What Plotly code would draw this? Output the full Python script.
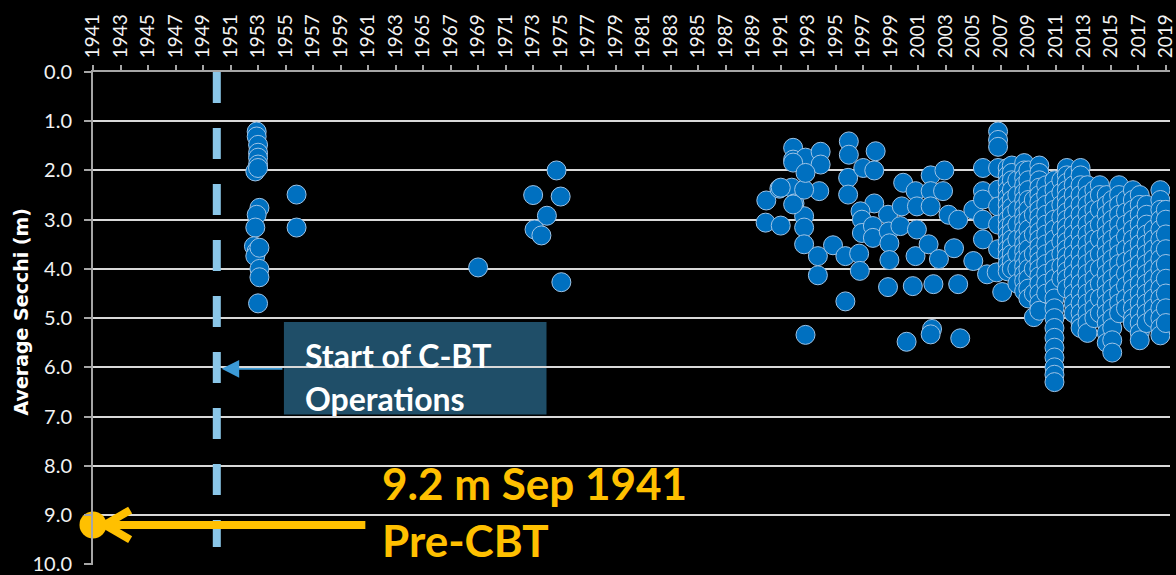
import plotly.graph_objects as go

# ---------------- data ----------------
tick_years = list(range(1941, 2020, 2))
tick_labels = [str(y) for y in tick_years]
depth_ticks = [0, 1, 2, 3, 4, 5, 6, 7, 8, 9, 10]

# 1953 - 1975 observations
early_year = [1952.9, 1952.9, 1953.0, 1953.0, 1953.0, 1953.0, 1952.8, 1953.0, 1953.1, 1952.9,
              1952.8, 1952.7, 1952.9, 1952.8, 1953.1, 1953.1, 1953.1, 1953.0,
              1955.8, 1955.8, 1969.0, 1973.0, 1974.7, 1975.0, 1974.0, 1973.1, 1973.6, 1975.05]
early_depth = [1.21, 1.31, 1.48, 1.64, 1.74, 1.88, 2.02, 1.95, 2.76, 2.9,
               3.16, 3.54, 3.64, 3.74, 3.57, 4.0, 4.17, 4.7,
               2.49, 3.16, 3.97, 2.5, 2.0, 2.53, 2.92, 3.2, 3.32, 4.27]

# 1989 - 2007 observations
mid_year = [1989.95, 1989.9, 1991.0, 1990.9, 1991.9, 1991.9, 1991.8, 1992.0, 1992.8, 1993.9,
            1993.9, 1993.8, 1992.7, 1992.7, 1992.7, 1992.7, 1993.7, 1993.7, 1994.8, 1995.7,
            1995.7, 1995.95, 1995.95, 1995.9, 1995.9, 1997.0, 1997.9, 1997.8, 1997.8, 1996.8,
            1996.9, 1996.9, 1997.7, 1997.7, 1996.7, 1996.75, 1998.8, 1998.85, 1998.9, 1998.9,
            1998.8, 1999.9, 1999.8, 1999.7, 2000.8, 2000.9, 2000.9, 2000.8, 2000.6, 2000.15,
            2001.9, 2002.9, 2001.9, 2002.8, 2001.9, 2001.75, 2002.5, 2003.6, 2002.1, 2003.9,
            2002.0, 2001.9, 2004.05, 2003.2, 2003.9, 2005.0, 2005.0, 2007.1, 2006.8, 2006.8,
            2006.8, 2005.7, 2006.8, 2005.7, 2005.7, 2005.7, 2005.7, 2006.0, 2006.8, 2006.8,
            2006.8, 2006.8, 2006.7, 1992.8, 1991.9, 1992.8, 1991.0, 1991.9]
mid_depth = [2.61, 3.06, 3.12, 2.37, 1.54, 1.78, 2.35, 2.67, 1.74, 1.62,
             1.88, 2.42, 2.39, 2.93, 3.16, 3.5, 3.74, 4.13, 3.52, 3.74,
             4.66, 1.41, 1.68, 2.15, 2.49, 1.95, 1.61, 2.0, 2.67, 2.83,
             3.0, 3.27, 3.13, 3.37, 3.69, 4.04, 2.9, 3.24, 3.48, 3.82,
             4.37, 2.25, 2.73, 3.13, 2.42, 2.73, 3.2, 3.74, 4.35, 5.48,
             2.1, 2.0, 2.42, 2.42, 2.73, 3.5, 3.8, 3.58, 4.31, 4.31,
             5.22, 5.33, 5.41, 2.9, 3.0, 3.84, 2.8, 4.47, 1.21, 1.38,
             1.52, 1.95, 1.95, 2.42, 2.59, 3.0, 3.4, 4.11, 2.39, 2.73,
             3.1, 3.6, 4.07, 5.34, 1.84, 2.05, 2.35, 2.69]

# 2007 - 2020 observations (grouped by sampling column)
late_col_year = [2007.5, 2007.8, 2008.2, 2008.7, 2009.0, 2009.4, 2009.8, 2010.3, 2010.9, 2011.4,
                 2011.8, 2012.3, 2012.8, 2013.3, 2013.8, 2014.2, 2014.7, 2015.1, 2015.6, 2016.1,
                 2016.6, 2017.1, 2017.6, 2018.1, 2018.6, 2019.0]
late_col_depths = [
    [1.95, 2.1, 2.25, 2.4, 2.55, 2.7, 2.85, 3.0, 3.15, 3.3, 3.45, 3.6, 3.75, 3.9, 4.05],
    [1.9, 2.05, 2.2, 2.4, 2.6, 2.75, 2.9, 3.1, 3.25, 3.4, 3.55, 3.7, 3.85, 4.0],
    [2.2, 2.5, 2.8, 3.1, 3.4, 3.7, 4.0, 4.3],
    [1.85, 2.0, 2.15, 2.3, 2.45, 2.6, 2.75, 2.9, 3.05, 3.2, 3.35, 3.5, 3.65, 3.8, 3.95, 4.1, 4.25, 4.45],
    [2.0, 2.2, 2.4, 2.6, 2.8, 3.0, 3.2, 3.4, 3.6, 3.8, 4.0, 4.2, 4.4, 4.6],
    [2.6, 2.9, 3.3, 3.7, 4.0, 4.5, 4.98],
    [1.9, 2.05, 2.2, 2.35, 2.5, 2.65, 2.8, 2.95, 3.1, 3.25, 3.4, 3.55, 3.7, 3.85, 4.0, 4.15, 4.3, 4.5, 4.7, 4.85],
    [2.3, 2.5, 2.7, 2.9, 3.1, 3.3, 3.5, 3.7, 3.9, 4.1, 4.3, 4.5],
    [2.2, 2.4, 2.6, 2.8, 3.0, 3.2, 3.4, 3.6, 3.8, 4.0, 4.2, 4.4, 4.6, 4.8, 5.0, 5.2, 5.4, 5.6, 5.8, 6.0, 6.15, 6.3],
    [2.2, 2.45, 2.7, 2.95, 3.2, 3.45, 3.7, 3.95, 4.2],
    [1.95, 2.1, 2.25, 2.4, 2.55, 2.7, 2.85, 3.0, 3.15, 3.3, 3.45, 3.6, 3.75, 3.9, 4.05, 4.2, 4.4],
    [2.1, 2.3, 2.5, 2.7, 2.9, 3.1, 3.3, 3.5, 3.7, 3.9, 4.1, 4.3, 4.5, 4.7, 4.9],
    [1.95, 2.1, 2.3, 2.5, 2.7, 2.9, 3.1, 3.3, 3.5, 3.7, 3.9, 4.1, 4.3, 4.5, 4.7, 4.9, 5.1, 5.2],
    [2.3, 2.5, 2.7, 2.9, 3.1, 3.3, 3.5, 3.7, 3.9, 4.1, 4.3, 4.5, 4.7, 4.9, 5.1, 5.3],
    [2.4, 2.6, 2.8, 3.0, 3.2, 3.4, 3.6, 3.8, 4.0, 4.2, 4.4, 4.6, 4.8, 5.0],
    [2.3, 2.5, 2.8, 3.1, 3.4, 3.7, 4.0, 4.3, 4.6, 4.9],
    [2.5, 2.7, 2.9, 3.1, 3.3, 3.5, 3.7, 3.9, 4.1, 4.3, 4.5, 4.7, 4.9, 5.1, 5.3, 5.5],
    [2.6, 2.8, 3.0, 3.2, 3.4, 3.6, 3.8, 4.0, 4.2, 4.4, 4.6, 4.8, 5.0, 5.2, 5.45, 5.7],
    [2.3, 2.5, 2.7, 2.9, 3.1, 3.3, 3.5, 3.7, 3.9, 4.1, 4.3, 4.5, 4.7, 4.9],
    [2.6, 2.85, 3.1, 3.35, 3.6, 3.85, 4.1, 4.35, 4.6, 4.8],
    [2.4, 2.6, 2.8, 3.0, 3.2, 3.4, 3.6, 3.8, 4.0, 4.2, 4.4, 4.6, 4.8, 5.0, 5.1],
    [2.5, 2.7, 2.9, 3.1, 3.3, 3.5, 3.7, 3.9, 4.1, 4.3, 4.5, 4.7, 4.9, 5.1, 5.3, 5.45],
    [2.7, 2.9, 3.1, 3.3, 3.5, 3.7, 3.9, 4.1, 4.3, 4.5, 4.7, 4.9, 5.1],
    [3.2, 3.4, 3.6, 3.8, 4.0, 4.2, 4.4, 4.6, 4.8, 5.0],
    [2.4, 2.6, 2.8, 3.0, 3.2, 3.4, 3.6, 3.8, 4.0, 4.2, 4.4, 4.6, 4.8, 5.0, 5.2, 5.35],
    [2.8, 3.0, 3.3, 3.6, 3.9, 4.2, 4.5, 4.8, 5.1],
]

cbt_start_year = 1950
pre_cbt_year = 1941
pre_cbt_depth = 9.2

# ---------------- build ----------------
late_year, late_depth = [], []
for yr, ds in zip(late_col_year, late_col_depths):
    late_year += [yr] * len(ds)
    late_depth += ds

all_year = early_year + mid_year + late_year
all_depth = early_depth + mid_depth + late_depth

fig = go.Figure()

# C-BT start dashed line
fig.add_shape(type="line", xref="x", yref="y", x0=cbt_start_year, x1=cbt_start_year,
              y0=0, y1=9.65, line=dict(color="#8AC6E8", width=8, dash="31px,25px"),
              layer="above")

fig.add_trace(go.Scatter(
    x=all_year, y=all_depth, mode="markers",
    marker=dict(size=19, color="#0070C0", line=dict(color="#9DC3E6", width=1)),
    hoverinfo="x+y",
))

# Text box
fig.add_shape(type="rect", xref="x", yref="y", x0=1954.88, x1=1973.97, y0=5.08, y1=6.96,
              fillcolor="#1F4E68", line=dict(width=0), layer="below")
fig.add_annotation(x=1956.3, y=5.75, xref="x", yref="y", text="Start of C-BT", showarrow=False,
                   xanchor="left", yanchor="middle",
                   font=dict(family="Lato", size=32, color="white", weight="bold"))
fig.add_annotation(x=1956.3, y=6.64, xref="x", yref="y", text="Operations", showarrow=False,
                   xanchor="left", yanchor="middle",
                   font=dict(family="Lato", size=32, color="white", weight="bold"))
# blue arrow
fig.add_annotation(x=1950.35, y=6.03, ax=1954.88, ay=6.03, xref="x", yref="y", axref="x", ayref="y",
                   text="", showarrow=True, arrowhead=2, arrowsize=2.2, arrowwidth=1.6,
                   arrowcolor="#3C9AD6")

# Pre-CBT yellow annotation
yellow = "#FFC000"
fig.add_shape(type="line", xref="x", yref="y", x0=1941.9, x1=1960.8, y0=pre_cbt_depth, y1=pre_cbt_depth,
              line=dict(color=yellow, width=8), layer="above")
fig.add_shape(type="line", xref="x", yref="y", x0=1941.85, x1=1943.7, y0=pre_cbt_depth, y1=8.9,
              line=dict(color=yellow, width=8), layer="above")
fig.add_shape(type="line", xref="x", yref="y", x0=1941.85, x1=1943.7, y0=pre_cbt_depth, y1=9.5,
              line=dict(color=yellow, width=8), layer="above")
fig.add_trace(go.Scatter(x=[pre_cbt_year], y=[pre_cbt_depth], mode="markers", cliponaxis=False,
                         marker=dict(size=27, color=yellow, line=dict(width=0)), hoverinfo="skip"))
fig.add_annotation(x=1961.9, y=8.34, xref="x", yref="y", text="9.2 m Sep 1941", showarrow=False,
                   xanchor="left", yanchor="middle",
                   font=dict(family="Lato", size=44, color=yellow, weight="bold"))
fig.add_annotation(x=1961.9, y=9.51, xref="x", yref="y", text="Pre-CBT", showarrow=False,
                   xanchor="left", yanchor="middle",
                   font=dict(family="Lato", size=44, color=yellow, weight="bold"))

# y title
fig.add_annotation(x=0, y=0.5, xref="paper", yref="paper", xshift=-73, yshift=7,
                   text="Average Secchi (m)",
                   textangle=-90, showarrow=False, xanchor="center", yanchor="middle",
                   font=dict(family="DejaVu Sans", size=19, color="white", weight="bold"))

fig.update_layout(
    width=1176, height=575,
    margin=dict(l=93, r=0, t=72, b=9),
    paper_bgcolor="black", plot_bgcolor="black",
    showlegend=False,
    xaxis=dict(range=[1941, 2019.3], side="top", tickmode="array", tickvals=tick_years,
               ticktext=tick_labels, tickangle=-90, ticks="outside", ticklen=5,
               tickcolor="#A6A6A6", tickwidth=1.5, showline=True, linecolor="#A6A6A6",
               linewidth=2, showgrid=False, zeroline=False, ticklabelstandoff=3,
               ticklabeloverflow="allow",
               tickfont=dict(family="Lato", size=19, color="#F2F2F2")),
    yaxis=dict(range=[10.015, 0], tickmode="array", tickvals=depth_ticks, tickformat=".1f",
               showgrid=True, gridcolor="#D9D9D9", gridwidth=1.5, ticks="outside", ticklen=7,
               tickcolor="#A6A6A6", tickwidth=1.5, showline=True, linecolor="#A6A6A6",
               linewidth=2, zeroline=False, ticklabelstandoff=8, ticklabeloverflow="allow",
               tickfont=dict(family="Lato", size=20, color="#F2F2F2")),
)

fig.write_html("out.html", config={"displayModeBar": False},
               post_script="document.body.style.margin='0px';document.body.style.overflow='hidden';")
